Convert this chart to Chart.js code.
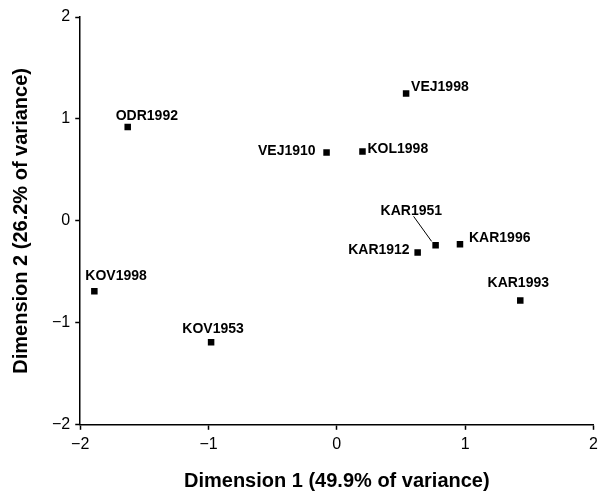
<!DOCTYPE html>
<html>
<head>
<meta charset="utf-8">
<script src="https://cdn.jsdelivr.net/npm/chart.js@4"></script>
<style>
  html, body { margin: 0; padding: 0; background: #fff; }
  #wrap { width: 598px; height: 493px; }
</style>
</head>
<body>
<div id="wrap"><canvas id="chart" width="598" height="493"></canvas></div>
<script>
// Sample names and ordination scores
const labels = ['ODR1992', 'VEJ1998', 'VEJ1910', 'KOL1998', 'KAR1951', 'KAR1996', 'KAR1912', 'KAR1993', 'KOV1998', 'KOV1953'];
const dim1 = [-1.63, 0.54, -0.08, 0.20, 0.77, 0.96, 0.63, 1.43, -1.89, -0.98];
const dim2 = [0.92, 1.25, 0.67, 0.68, -0.24, -0.23, -0.31, -0.78, -0.69, -1.19];
const axisTicks = [-2, -1, 0, 1, 2];

// label placement: [dx, dy, align], leader line for KAR1951
const labelPos = [
    [-12, -11, 'left'],
    [5, -6, 'left'],
    [-11, -1, 'right'],
    [5, -2, 'left'],
    [-55, -34, 'left'],
    [9, -6, 'left'],
    [-8, -2, 'right'],
    [-2, -17, 'center'],
    [-9, -15, 'left'],
    [2, -13, 'center'],
];

const font = 'Liberation Sans, Arial, Helvetica, sans-serif';

const pointLabels = {
    id: 'pointLabels',
    afterDatasetsDraw(chart) {
        const ctx = chart.ctx;
        const meta = chart.getDatasetMeta(0);
        ctx.save();
        ctx.fillStyle = '#000';
        ctx.font = 'bold 14px ' + font;
        ctx.textBaseline = 'middle';
        meta.data.forEach((pt, i) => {
            const p = labelPos[i];
            ctx.textAlign = p[2];
            ctx.fillText(labels[i], pt.x + p[0], pt.y + p[1]);
            if (labels[i] === 'KAR1951') {
                ctx.beginPath();
                ctx.strokeStyle = '#000';
                ctx.lineWidth = 1;
                ctx.moveTo(pt.x - 22, pt.y - 29);
                ctx.lineTo(pt.x - 4, pt.y - 4);
                ctx.stroke();
            }
        });
        ctx.restore();
    }
};

const fmt = v => (v < 0 ? '\u2212' + Math.abs(v) : String(v));

function axis(title, isX) {
    return {
        type: 'linear',
        min: -2,
        max: 2,
        afterBuildTicks: s => { s.ticks = axisTicks.map(v => ({ value: v })); },
        // let the layout padding alone decide the plot edges
        afterFit: s => {
            s.paddingLeft = 0; s.paddingRight = 0;
            s.paddingTop = 0; s.paddingBottom = 0;
        },
        ticks: {
            color: '#000',
            font: { family: font, size: 16 },
            padding: 5,
            callback: fmt,
        },
        grid: {
            drawOnChartArea: false,
            drawTicks: true,
            tickLength: 5,
            tickWidth: 1.5,
            tickColor: '#000',
        },
        border: { color: '#000', width: 1.5 },
        title: {
            display: true,
            text: title,
            color: '#000',
            font: { family: font, size: 20, weight: 'bold' },
            padding: isX ? { top: 10, bottom: 0 } : { top: 0, bottom: 14 },
        },
    };
}

new Chart(document.getElementById('chart'), {
    type: 'scatter',
    data: {
        datasets: [{
            data: dim1.map((x, i) => ({ x: x, y: dim2[i] })),
            pointStyle: 'rect',
            pointRadius: 4.6,
            backgroundColor: '#000',
            borderColor: '#000',
            borderWidth: 0,
        }],
    },
    options: {
        responsive: false,
        animation: false,
        layout: { padding: { top: 17, right: 3, bottom: 0, left: 9 } },
        plugins: { legend: { display: false }, tooltip: { enabled: false } },
        scales: {
            x: axis('Dimension 1 (49.9% of variance)', true),
            y: axis('Dimension 2 (26.2% of variance)', false),
        },
    },
    plugins: [pointLabels],
});
</script>
</body>
</html>
